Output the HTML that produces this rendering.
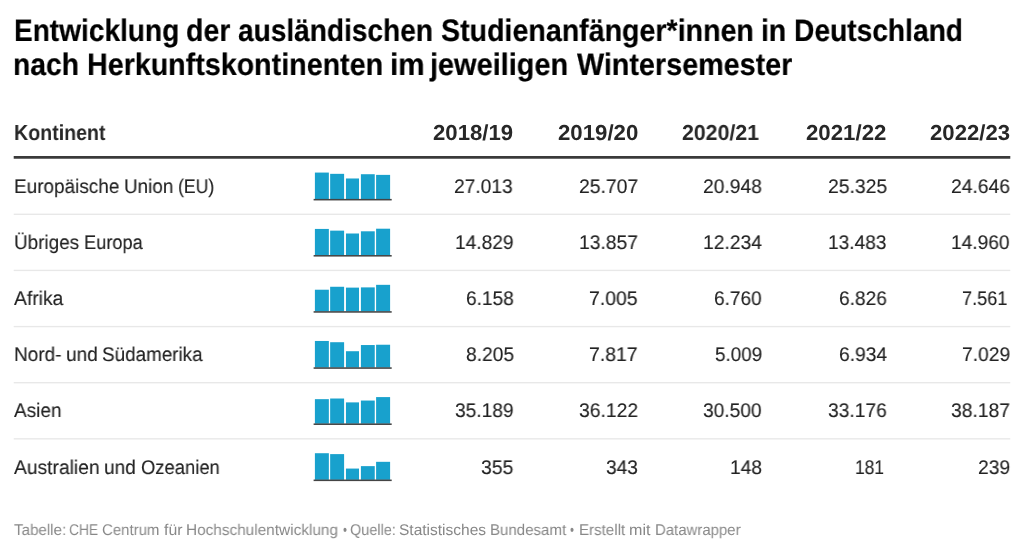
<!DOCTYPE html>
<html><head><meta charset="utf-8"><style>
html,body{margin:0;padding:0;background:#fff;}
body{width:1024px;height:553px;position:relative;overflow:hidden;font-family:"Liberation Sans", sans-serif;}
.t{position:absolute;white-space:nowrap;transform-origin:0 0;will-change:transform;text-rendering:geometricPrecision;}
.ln{position:absolute;}
</style></head><body>
<div class="t" style="left:13.84px;top:14.90px;font-size:31.003px;font-weight:700;color:#000;line-height:31.003px;transform:scaleX(0.9047);-webkit-text-stroke:0.2px #000;">Entwicklung</div>
<div class="t" style="left:185.95px;top:14.90px;font-size:31.003px;font-weight:700;color:#000;line-height:31.003px;transform:scaleX(0.9197);-webkit-text-stroke:0.2px #000;">der</div>
<div class="t" style="left:238.11px;top:14.90px;font-size:31.003px;font-weight:700;color:#000;line-height:31.003px;transform:scaleX(0.9050);-webkit-text-stroke:0.2px #000;">ausländischen</div>
<div class="t" style="left:441.00px;top:14.90px;font-size:31.003px;font-weight:700;color:#000;line-height:31.003px;transform:scaleX(0.9220);-webkit-text-stroke:0.2px #000;">Studienanfänger*innen</div>
<div class="t" style="left:760.95px;top:14.90px;font-size:31.003px;font-weight:700;color:#000;line-height:31.003px;transform:scaleX(0.9154);-webkit-text-stroke:0.2px #000;">in</div>
<div class="t" style="left:793.76px;top:14.90px;font-size:31.003px;font-weight:700;color:#000;line-height:31.003px;transform:scaleX(0.9084);-webkit-text-stroke:0.2px #000;">Deutschland</div>
<div class="t" style="left:13.36px;top:49.00px;font-size:31.003px;font-weight:700;color:#000;line-height:31.003px;transform:scaleX(0.9107);-webkit-text-stroke:0.2px #000;">nach</div>
<div class="t" style="left:86.80px;top:49.00px;font-size:31.003px;font-weight:700;color:#000;line-height:31.003px;transform:scaleX(0.9242);-webkit-text-stroke:0.2px #000;">Herkunftskontinenten</div>
<div class="t" style="left:389.91px;top:49.00px;font-size:31.003px;font-weight:700;color:#000;line-height:31.003px;transform:scaleX(0.9586);-webkit-text-stroke:0.2px #000;">im</div>
<div class="t" style="left:430.45px;top:49.00px;font-size:31.003px;font-weight:700;color:#000;line-height:31.003px;transform:scaleX(0.9323);-webkit-text-stroke:0.2px #000;">jeweiligen</div>
<div class="t" style="left:576.50px;top:49.00px;font-size:31.003px;font-weight:700;color:#000;line-height:31.003px;transform:scaleX(0.9268);-webkit-text-stroke:0.2px #000;">Wintersemester</div>
<div class="t" style="left:13.74px;top:121.60px;font-size:21.702px;font-weight:700;color:#272727;line-height:21.702px;transform:scaleX(0.9036);">Kontinent</div>
<div class="t" style="left:433.14px;top:121.60px;font-size:21.702px;font-weight:700;color:#272727;line-height:21.702px;transform:scaleX(1.0218);">2018/19</div>
<div class="t" style="left:557.54px;top:121.60px;font-size:21.702px;font-weight:700;color:#272727;line-height:21.702px;transform:scaleX(1.0245);">2019/20</div>
<div class="t" style="left:681.97px;top:121.60px;font-size:21.702px;font-weight:700;color:#272727;line-height:21.702px;transform:scaleX(0.9829);">2020/21</div>
<div class="t" style="left:806.34px;top:121.60px;font-size:21.702px;font-weight:700;color:#272727;line-height:21.702px;transform:scaleX(1.0258);">2021/22</div>
<div class="t" style="left:929.93px;top:121.60px;font-size:21.702px;font-weight:700;color:#272727;line-height:21.702px;transform:scaleX(1.0218);">2022/23</div>
<div class="t" style="left:13.68px;top:177.85px;font-size:19.776px;font-weight:400;color:#222;line-height:19.776px;transform:scaleX(0.9582);-webkit-text-stroke:0.12px #222;">Europäische</div>
<div class="t" style="left:123.56px;top:177.85px;font-size:19.776px;font-weight:400;color:#222;line-height:19.776px;transform:scaleX(0.9531);-webkit-text-stroke:0.12px #222;">Union</div>
<div class="t" style="left:177.85px;top:177.85px;font-size:19.776px;font-weight:400;color:#222;line-height:19.776px;transform:scaleX(0.8923);-webkit-text-stroke:0.12px #222;">(EU)</div>
<div class="t" style="left:454.41px;top:177.85px;font-size:19.776px;font-weight:400;color:#222;line-height:19.776px;transform:scaleX(0.9700);-webkit-text-stroke:0.12px #222;">27.013</div>
<div class="t" style="left:578.80px;top:177.85px;font-size:19.776px;font-weight:400;color:#222;line-height:19.776px;transform:scaleX(0.9785);-webkit-text-stroke:0.12px #222;">25.707</div>
<div class="t" style="left:703.21px;top:177.85px;font-size:19.776px;font-weight:400;color:#222;line-height:19.776px;transform:scaleX(0.9734);-webkit-text-stroke:0.12px #222;">20.948</div>
<div class="t" style="left:827.60px;top:177.85px;font-size:19.776px;font-weight:400;color:#222;line-height:19.776px;transform:scaleX(0.9786);-webkit-text-stroke:0.12px #222;">25.325</div>
<div class="t" style="left:951.20px;top:177.85px;font-size:19.776px;font-weight:400;color:#222;line-height:19.776px;transform:scaleX(0.9752);-webkit-text-stroke:0.12px #222;">24.646</div>
<div class="t" style="left:13.58px;top:233.98px;font-size:19.776px;font-weight:400;color:#222;line-height:19.776px;transform:scaleX(0.9563);-webkit-text-stroke:0.12px #222;">Übriges</div>
<div class="t" style="left:83.78px;top:233.98px;font-size:19.776px;font-weight:400;color:#222;line-height:19.776px;transform:scaleX(0.9215);-webkit-text-stroke:0.12px #222;">Europa</div>
<div class="t" style="left:454.63px;top:233.98px;font-size:19.776px;font-weight:400;color:#222;line-height:19.776px;transform:scaleX(0.9680);-webkit-text-stroke:0.12px #222;">14.829</div>
<div class="t" style="left:579.02px;top:233.98px;font-size:19.776px;font-weight:400;color:#222;line-height:19.776px;transform:scaleX(0.9749);-webkit-text-stroke:0.12px #222;">13.857</div>
<div class="t" style="left:703.42px;top:233.98px;font-size:19.776px;font-weight:400;color:#222;line-height:19.776px;transform:scaleX(0.9750);-webkit-text-stroke:0.12px #222;">12.234</div>
<div class="t" style="left:827.83px;top:233.98px;font-size:19.776px;font-weight:400;color:#222;line-height:19.776px;transform:scaleX(0.9663);-webkit-text-stroke:0.12px #222;">13.483</div>
<div class="t" style="left:951.42px;top:233.98px;font-size:19.776px;font-weight:400;color:#222;line-height:19.776px;transform:scaleX(0.9681);-webkit-text-stroke:0.12px #222;">14.960</div>
<div class="t" style="left:13.91px;top:290.11px;font-size:19.776px;font-weight:400;color:#222;line-height:19.776px;transform:scaleX(0.9754);-webkit-text-stroke:0.12px #222;">Afrika</div>
<div class="t" style="left:465.51px;top:290.11px;font-size:19.776px;font-weight:400;color:#222;line-height:19.776px;transform:scaleX(0.9653);-webkit-text-stroke:0.12px #222;">6.158</div>
<div class="t" style="left:589.39px;top:290.11px;font-size:19.776px;font-weight:400;color:#222;line-height:19.776px;transform:scaleX(0.9821);-webkit-text-stroke:0.12px #222;">7.005</div>
<div class="t" style="left:714.31px;top:290.11px;font-size:19.776px;font-weight:400;color:#222;line-height:19.776px;transform:scaleX(0.9633);-webkit-text-stroke:0.12px #222;">6.760</div>
<div class="t" style="left:838.71px;top:290.11px;font-size:19.776px;font-weight:400;color:#222;line-height:19.776px;transform:scaleX(0.9674);-webkit-text-stroke:0.12px #222;">6.826</div>
<div class="t" style="left:961.85px;top:290.11px;font-size:19.776px;font-weight:400;color:#222;line-height:19.776px;transform:scaleX(0.9169);-webkit-text-stroke:0.12px #222;">7.561</div>
<div class="t" style="left:13.67px;top:346.24px;font-size:19.776px;font-weight:400;color:#222;line-height:19.776px;transform:scaleX(0.9626);-webkit-text-stroke:0.12px #222;">Nord-</div>
<div class="t" style="left:65.63px;top:346.24px;font-size:19.776px;font-weight:400;color:#222;line-height:19.776px;transform:scaleX(0.9638);-webkit-text-stroke:0.12px #222;">und</div>
<div class="t" style="left:102.30px;top:346.24px;font-size:19.776px;font-weight:400;color:#222;line-height:19.776px;transform:scaleX(0.9538);-webkit-text-stroke:0.12px #222;">Südamerika</div>
<div class="t" style="left:465.50px;top:346.24px;font-size:19.776px;font-weight:400;color:#222;line-height:19.776px;transform:scaleX(0.9717);-webkit-text-stroke:0.12px #222;">8.205</div>
<div class="t" style="left:589.39px;top:346.24px;font-size:19.776px;font-weight:400;color:#222;line-height:19.776px;transform:scaleX(0.9821);-webkit-text-stroke:0.12px #222;">7.817</div>
<div class="t" style="left:714.81px;top:346.24px;font-size:19.776px;font-weight:400;color:#222;line-height:19.776px;transform:scaleX(0.9529);-webkit-text-stroke:0.12px #222;">5.009</div>
<div class="t" style="left:838.70px;top:346.24px;font-size:19.776px;font-weight:400;color:#222;line-height:19.776px;transform:scaleX(0.9718);-webkit-text-stroke:0.12px #222;">6.934</div>
<div class="t" style="left:961.79px;top:346.24px;font-size:19.776px;font-weight:400;color:#222;line-height:19.776px;transform:scaleX(0.9737);-webkit-text-stroke:0.12px #222;">7.029</div>
<div class="t" style="left:13.91px;top:402.37px;font-size:19.776px;font-weight:400;color:#222;line-height:19.776px;transform:scaleX(0.9610);-webkit-text-stroke:0.12px #222;">Asien</div>
<div class="t" style="left:454.61px;top:402.37px;font-size:19.776px;font-weight:400;color:#222;line-height:19.776px;transform:scaleX(0.9684);-webkit-text-stroke:0.12px #222;">35.189</div>
<div class="t" style="left:579.00px;top:402.37px;font-size:19.776px;font-weight:400;color:#222;line-height:19.776px;transform:scaleX(0.9769);-webkit-text-stroke:0.12px #222;">36.122</div>
<div class="t" style="left:703.41px;top:402.37px;font-size:19.776px;font-weight:400;color:#222;line-height:19.776px;transform:scaleX(0.9685);-webkit-text-stroke:0.12px #222;">30.500</div>
<div class="t" style="left:827.80px;top:402.37px;font-size:19.776px;font-weight:400;color:#222;line-height:19.776px;transform:scaleX(0.9718);-webkit-text-stroke:0.12px #222;">33.176</div>
<div class="t" style="left:951.39px;top:402.37px;font-size:19.776px;font-weight:400;color:#222;line-height:19.776px;transform:scaleX(0.9752);-webkit-text-stroke:0.12px #222;">38.187</div>
<div class="t" style="left:13.91px;top:458.50px;font-size:19.776px;font-weight:400;color:#222;line-height:19.776px;transform:scaleX(0.9729);-webkit-text-stroke:0.12px #222;">Australien</div>
<div class="t" style="left:104.41px;top:458.50px;font-size:19.776px;font-weight:400;color:#222;line-height:19.776px;transform:scaleX(0.9638);-webkit-text-stroke:0.12px #222;">und</div>
<div class="t" style="left:141.41px;top:458.50px;font-size:19.776px;font-weight:400;color:#222;line-height:19.776px;transform:scaleX(0.9311);-webkit-text-stroke:0.12px #222;">Ozeanien</div>
<div class="t" style="left:481.24px;top:458.50px;font-size:19.776px;font-weight:400;color:#222;line-height:19.776px;transform:scaleX(0.9805);-webkit-text-stroke:0.12px #222;">355</div>
<div class="t" style="left:605.65px;top:458.50px;font-size:19.776px;font-weight:400;color:#222;line-height:19.776px;transform:scaleX(0.9646);-webkit-text-stroke:0.12px #222;">343</div>
<div class="t" style="left:730.07px;top:458.50px;font-size:19.776px;font-weight:400;color:#222;line-height:19.776px;transform:scaleX(0.9702);-webkit-text-stroke:0.12px #222;">148</div>
<div class="t" style="left:854.61px;top:458.50px;font-size:19.776px;font-weight:400;color:#222;line-height:19.776px;transform:scaleX(0.8786);-webkit-text-stroke:0.12px #222;">181</div>
<div class="t" style="left:977.84px;top:458.50px;font-size:19.776px;font-weight:400;color:#222;line-height:19.776px;transform:scaleX(0.9739);-webkit-text-stroke:0.12px #222;">239</div>
<div class="t" style="left:13.72px;top:522.60px;font-size:15.532px;font-weight:400;color:#888;line-height:15.532px;transform:scaleX(0.9758);">Tabelle:</div>
<div class="t" style="left:69.44px;top:522.60px;font-size:15.532px;font-weight:400;color:#888;line-height:15.532px;transform:scaleX(0.8867);">CHE</div>
<div class="t" style="left:102.27px;top:522.60px;font-size:15.532px;font-weight:400;color:#888;line-height:15.532px;transform:scaleX(0.9651);">Centrum</div>
<div class="t" style="left:163.81px;top:522.60px;font-size:15.532px;font-weight:400;color:#888;line-height:15.532px;transform:scaleX(1.0171);">für</div>
<div class="t" style="left:186.03px;top:522.60px;font-size:15.532px;font-weight:400;color:#888;line-height:15.532px;transform:scaleX(0.9894);">Hochschulentwicklung</div>
<div class="t" style="left:342.82px;top:522.60px;font-size:15.532px;font-weight:400;color:#888;line-height:15.532px;transform:scaleX(0.7209);">•</div>
<div class="t" style="left:349.95px;top:522.60px;font-size:15.532px;font-weight:400;color:#888;line-height:15.532px;transform:scaleX(0.9325);">Quelle:</div>
<div class="t" style="left:399.01px;top:522.60px;font-size:15.532px;font-weight:400;color:#888;line-height:15.532px;transform:scaleX(0.9958);">Statistisches</div>
<div class="t" style="left:489.82px;top:522.60px;font-size:15.532px;font-weight:400;color:#888;line-height:15.532px;transform:scaleX(0.9702);">Bundesamt</div>
<div class="t" style="left:570.42px;top:522.60px;font-size:15.532px;font-weight:400;color:#888;line-height:15.532px;transform:scaleX(0.7209);">•</div>
<div class="t" style="left:578.93px;top:522.60px;font-size:15.532px;font-weight:400;color:#888;line-height:15.532px;transform:scaleX(0.9735);">Erstellt</div>
<div class="t" style="left:629.26px;top:522.60px;font-size:15.532px;font-weight:400;color:#888;line-height:15.532px;transform:scaleX(1.0357);">mit</div>
<div class="t" style="left:654.91px;top:522.60px;font-size:15.532px;font-weight:400;color:#888;line-height:15.532px;transform:scaleX(0.9620);">Datawrapper</div>
<svg width="1024" height="553" style="position:absolute;left:0;top:0"><rect x="13.71" y="156" width="996.58" height="2.74" fill="#3a3a3a"/><rect x="13.71" y="213.62" width="996.58" height="1.37" fill="#e8e8e8"/><rect x="13.71" y="269.75" width="996.58" height="1.37" fill="#e8e8e8"/><rect x="13.71" y="325.88" width="996.58" height="1.37" fill="#e8e8e8"/><rect x="13.71" y="382.01" width="996.58" height="1.37" fill="#e8e8e8"/><rect x="13.71" y="438.14" width="996.58" height="1.37" fill="#e8e8e8"/><rect x="314.9" y="172.57" width="13.95" height="26.63" fill="#18a1cd"/><rect x="330.15" y="173.84" width="13.95" height="25.36" fill="#18a1cd"/><rect x="345.95" y="178.48" width="13.05" height="20.72" fill="#18a1cd"/><rect x="360.9" y="174.22" width="13.85" height="24.98" fill="#18a1cd"/><rect x="376.1" y="174.88" width="14.00" height="24.32" fill="#18a1cd"/><rect x="313.6" y="198.90" width="78.1" height="1.55" fill="#444"/><rect x="314.9" y="228.93" width="13.95" height="26.40" fill="#18a1cd"/><rect x="330.15" y="230.64" width="13.95" height="24.69" fill="#18a1cd"/><rect x="345.95" y="233.50" width="13.05" height="21.83" fill="#18a1cd"/><rect x="360.9" y="231.30" width="13.85" height="24.03" fill="#18a1cd"/><rect x="376.1" y="228.70" width="14.00" height="26.63" fill="#18a1cd"/><rect x="313.6" y="255.03" width="78.1" height="1.55" fill="#444"/><rect x="314.9" y="289.72" width="13.95" height="21.74" fill="#18a1cd"/><rect x="330.15" y="286.77" width="13.95" height="24.69" fill="#18a1cd"/><rect x="345.95" y="287.62" width="13.05" height="23.84" fill="#18a1cd"/><rect x="360.9" y="287.39" width="13.85" height="24.07" fill="#18a1cd"/><rect x="376.1" y="284.83" width="14.00" height="26.63" fill="#18a1cd"/><rect x="313.6" y="311.16" width="78.1" height="1.55" fill="#444"/><rect x="314.9" y="340.96" width="13.95" height="26.63" fill="#18a1cd"/><rect x="330.15" y="342.21" width="13.95" height="25.38" fill="#18a1cd"/><rect x="345.95" y="351.22" width="13.05" height="16.37" fill="#18a1cd"/><rect x="360.9" y="345.04" width="13.85" height="22.55" fill="#18a1cd"/><rect x="376.1" y="344.73" width="14.00" height="22.86" fill="#18a1cd"/><rect x="313.6" y="367.29" width="78.1" height="1.55" fill="#444"/><rect x="314.9" y="399.16" width="13.95" height="24.56" fill="#18a1cd"/><rect x="330.15" y="398.51" width="13.95" height="25.21" fill="#18a1cd"/><rect x="345.95" y="402.39" width="13.05" height="21.33" fill="#18a1cd"/><rect x="360.9" y="400.55" width="13.85" height="23.17" fill="#18a1cd"/><rect x="376.1" y="397.09" width="14.00" height="26.63" fill="#18a1cd"/><rect x="313.6" y="423.42" width="78.1" height="1.55" fill="#444"/><rect x="314.9" y="453.22" width="13.95" height="26.63" fill="#18a1cd"/><rect x="330.15" y="454.11" width="13.95" height="25.74" fill="#18a1cd"/><rect x="345.95" y="468.57" width="13.05" height="11.28" fill="#18a1cd"/><rect x="360.9" y="466.13" width="13.85" height="13.72" fill="#18a1cd"/><rect x="376.1" y="461.82" width="14.00" height="18.03" fill="#18a1cd"/><rect x="313.6" y="479.55" width="78.1" height="1.55" fill="#444"/></svg>
</body></html>
